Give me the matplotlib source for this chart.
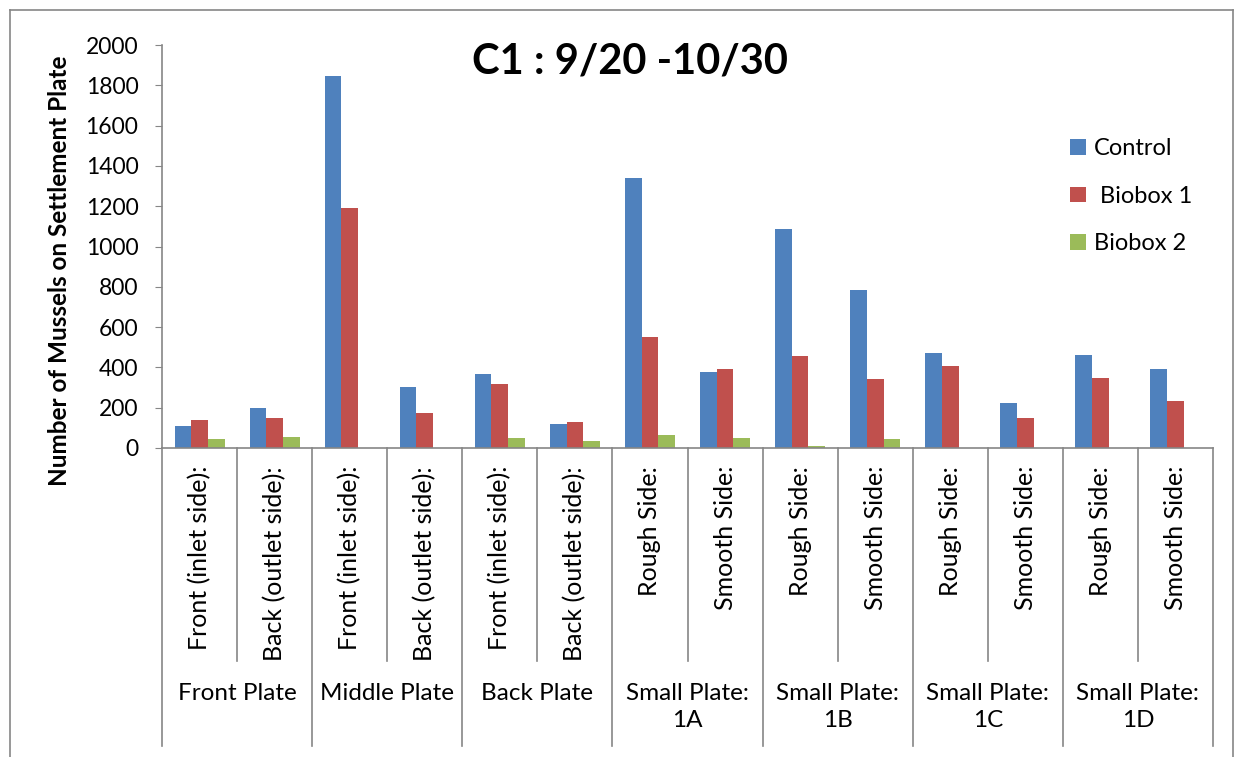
import matplotlib.pyplot as plt
import numpy as np
from matplotlib.lines import Line2D

sub_labels = ["Front (inlet side):", "Back (outlet side):",
              "Front (inlet side):", "Back (outlet side):",
              "Front (inlet side):", "Back (outlet side):",
              "Rough Side:", "Smooth Side:", "Rough Side:", "Smooth Side:",
              "Rough Side:", "Smooth Side:", "Rough Side:", "Smooth Side:"]
group_labels = ["Front Plate", "Middle Plate", "Back Plate",
                "Small Plate:\n1A", "Small Plate:\n1B", "Small Plate:\n1C", "Small Plate:\n1D"]
control = [107, 197, 1845, 303, 368, 117, 1342, 378, 1085, 782, 473, 222, 463, 390]
biobox1 = [138, 147, 1190, 173, 320, 127, 550, 390, 458, 342, 408, 148, 348, 233]
biobox2 = [47, 55, 0, 0, 52, 37, 66, 48, 8, 43, 0, 0, 0, 0]
series_names = ["Control", " Biobox 1", "Biobox 2"]
colors = ["#4F81BD", "#C0504D", "#9BBB59"]

plt.rcParams['font.family'] = ['Lato', 'DejaVu Sans']
W, H = 1243, 757
fig = plt.figure(figsize=(W / 100, H / 100), dpi=100)
ax = fig.add_axes([162 / W, (H - 448) / H, (1213 - 162) / W, (448 - 45) / H])

x = np.arange(len(sub_labels))
bw = 0.222
bars = []
for i, (vals, c) in enumerate(zip([control, biobox1, biobox2], colors)):
    b = ax.bar(x + (i - 1) * bw, vals, bw, color=c, edgecolor='none')
    bars.append(b)

ax.set_xlim(-0.5, len(sub_labels) - 0.5)
ax.set_ylim(0, 2000)
ax.set_yticks(np.arange(0, 2001, 200))
ax.tick_params(axis='y', direction='out', length=5, color='#868686', labelsize=16.5, pad=12)
ax.set_xticks([])
for s in ['top', 'right']:
    ax.spines[s].set_visible(False)
for s in ['left', 'bottom']:
    ax.spines[s].set_color('#868686')
    ax.spines[s].set_linewidth(1.2)

trans = ax.get_xaxis_transform()
inner_bottom = -(661 - 448) / 403
outer_bottom = -(746 - 448) / 403
for k in range(len(sub_labels) + 1):
    xe = k - 0.5
    y0 = outer_bottom if k % 2 == 0 else inner_bottom
    ax.plot([xe, xe], [0, y0], color='#868686', lw=1.2, transform=trans, clip_on=False)

for k, lab in enumerate(sub_labels):
    ax.text(k, -(466 - 448) / 403, lab, rotation=90, ha='center', va='top',
            fontsize=18, transform=trans)

for g, lab in enumerate(group_labels):
    ax.text(2 * g + 0.5, -(683 - 448) / 403, lab, ha='center', va='top',
            fontsize=17.5, transform=trans, linespacing=1.36)

ax.set_ylabel("Number of Mussels on Settlement Plate", fontsize=17.5,
              fontweight='bold')
ax.yaxis.set_label_coords(-(162 - 71) / 1051, 0.44)

fig.text(630 / W, 1 - 62 / H, "C1 : 9/20 -10/30", ha='center', va='center',
         fontsize=30, fontweight='bold')

ax.legend(bars, series_names, loc='upper left', bbox_to_anchor=(1049 / W, 1 - 117 / H),
          bbox_transform=fig.transFigure, frameon=False, fontsize=17,
          handlelength=0.65, handleheight=0.65, labelspacing=1.12, handletextpad=0.35)

for xs, ys in [([10, 1233], [10, 10]), ([10, 10], [10, 757]), ([1233, 1233], [10, 757])]:
    fig.add_artist(Line2D([v / W for v in xs], [1 - v / H for v in ys],
                          color='#868686', lw=1.2))

fig.savefig("out.png", dpi=100)
